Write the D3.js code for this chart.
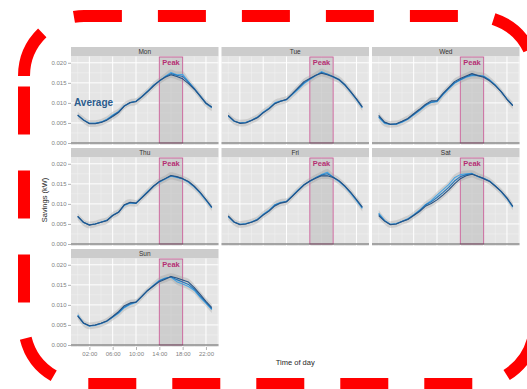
<!DOCTYPE html>
<html>
<head>
<meta charset="utf-8">
<script src="https://cdn.jsdelivr.net/npm/d3@7"></script>
<style>
    body { margin: 0; background: #fff; }
    svg { display: block; font-family: "Liberation Sans", Arial, sans-serif; }
</style>
</head>
<body>
<div id="chart"></div>
<script>

// ---- data ----
const days = ["Mon", "Tue", "Wed", "Thu", "Fri", "Sat", "Sun"];
const hours = [0, 1, 2, 3, 4, 5, 6, 7, 8, 9, 10, 11, 12, 13, 14, 15, 16, 17, 18, 19, 20, 21, 22, 23];
const xTicks = [2, 6, 10, 14, 18, 22];
const xTickLabels = ["02:00", "06:00", "10:00", "14:00", "18:00", "22:00"];
const yTicks = [0, 0.005, 0.010, 0.015, 0.020];
const peakWindow = [14, 18];

// dark = average line, mid / light = the two other groups
const monDark  = [0.0070,0.0057,0.0048,0.0048,0.0051,0.0057,0.0066,0.0076,0.0092,0.0101,0.0103,0.0115,0.0128,0.0142,0.0155,0.0164,0.0170,0.0166,0.0160,0.0148,0.0134,0.0117,0.0099,0.0089];
const monMid   = [0.0069,0.0057,0.0049,0.0049,0.0052,0.0058,0.0068,0.0078,0.0093,0.0101,0.0104,0.0116,0.0129,0.0144,0.0155,0.0165,0.0173,0.0169,0.0166,0.0152,0.0136,0.0118,0.0100,0.0090];
const monLight = [0.0069,0.0058,0.0049,0.0049,0.0052,0.0059,0.0070,0.0078,0.0092,0.0100,0.0104,0.0115,0.0129,0.0143,0.0154,0.0166,0.0176,0.0170,0.0171,0.0153,0.0135,0.0116,0.0098,0.0088];

const tueDark  = [0.0069,0.0055,0.0049,0.0050,0.0056,0.0063,0.0075,0.0085,0.0098,0.0104,0.0109,0.0123,0.0138,0.0153,0.0161,0.0169,0.0174,0.0170,0.0165,0.0158,0.0145,0.0128,0.0110,0.0090];
const tueMid   = [0.0068,0.0055,0.0050,0.0051,0.0057,0.0064,0.0076,0.0086,0.0099,0.0104,0.0108,0.0122,0.0136,0.0150,0.0160,0.0168,0.0176,0.0172,0.0166,0.0159,0.0146,0.0128,0.0109,0.0089];
const tueLight = [0.0067,0.0054,0.0050,0.0051,0.0057,0.0064,0.0077,0.0087,0.0100,0.0105,0.0108,0.0121,0.0134,0.0148,0.0158,0.0168,0.0178,0.0171,0.0164,0.0157,0.0144,0.0127,0.0108,0.0088];

const wedDark  = [0.0069,0.0052,0.0047,0.0048,0.0054,0.0061,0.0073,0.0084,0.0096,0.0105,0.0106,0.0123,0.0138,0.0153,0.0161,0.0167,0.0173,0.0168,0.0164,0.0155,0.0143,0.0128,0.0109,0.0093];
const wedMid   = [0.0066,0.0051,0.0046,0.0047,0.0053,0.0060,0.0071,0.0082,0.0094,0.0102,0.0104,0.0121,0.0136,0.0150,0.0158,0.0165,0.0170,0.0169,0.0166,0.0157,0.0144,0.0128,0.0109,0.0093];
const wedLight = [0.0064,0.0049,0.0046,0.0047,0.0052,0.0059,0.0070,0.0081,0.0093,0.0101,0.0103,0.0120,0.0135,0.0149,0.0157,0.0164,0.0168,0.0168,0.0167,0.0158,0.0145,0.0128,0.0110,0.0094];

const thuDark  = [0.0069,0.0054,0.0047,0.0050,0.0054,0.0058,0.0071,0.0079,0.0098,0.0104,0.0102,0.0115,0.0129,0.0144,0.0156,0.0163,0.0171,0.0168,0.0163,0.0156,0.0144,0.0129,0.0111,0.0092];
const thuMid   = [0.0069,0.0054,0.0048,0.0050,0.0054,0.0059,0.0071,0.0079,0.0097,0.0103,0.0102,0.0116,0.0130,0.0144,0.0155,0.0163,0.0170,0.0167,0.0163,0.0155,0.0143,0.0128,0.0110,0.0091];
const thuLight = [0.0068,0.0053,0.0048,0.0050,0.0055,0.0059,0.0072,0.0080,0.0096,0.0102,0.0101,0.0116,0.0131,0.0145,0.0154,0.0162,0.0169,0.0166,0.0162,0.0154,0.0142,0.0127,0.0109,0.0090];

const friDark  = [0.0070,0.0055,0.0048,0.0050,0.0054,0.0060,0.0072,0.0082,0.0095,0.0102,0.0105,0.0119,0.0133,0.0147,0.0157,0.0164,0.0170,0.0170,0.0166,0.0158,0.0145,0.0129,0.0111,0.0092];
const friMid   = [0.0069,0.0055,0.0049,0.0050,0.0055,0.0061,0.0073,0.0083,0.0097,0.0103,0.0106,0.0120,0.0134,0.0148,0.0157,0.0165,0.0172,0.0175,0.0167,0.0157,0.0144,0.0128,0.0110,0.0091];
const friLight = [0.0068,0.0054,0.0049,0.0051,0.0055,0.0061,0.0074,0.0084,0.0098,0.0104,0.0106,0.0120,0.0135,0.0148,0.0156,0.0165,0.0173,0.0179,0.0166,0.0156,0.0143,0.0127,0.0108,0.0089];

const satDark  = [0.0071,0.0057,0.0048,0.0050,0.0056,0.0061,0.0071,0.0081,0.0094,0.0101,0.0110,0.0122,0.0135,0.0150,0.0163,0.0170,0.0174,0.0169,0.0163,0.0156,0.0144,0.0131,0.0115,0.0094];
const satMid   = [0.0074,0.0058,0.0049,0.0050,0.0056,0.0062,0.0072,0.0083,0.0097,0.0105,0.0116,0.0128,0.0141,0.0157,0.0168,0.0173,0.0175,0.0169,0.0164,0.0157,0.0145,0.0131,0.0114,0.0093];
const satLight = [0.0077,0.0059,0.0049,0.0051,0.0057,0.0063,0.0073,0.0084,0.0098,0.0108,0.0122,0.0135,0.0148,0.0165,0.0173,0.0175,0.0176,0.0168,0.0163,0.0157,0.0145,0.0130,0.0113,0.0092];

const sunDark  = [0.0072,0.0055,0.0048,0.0050,0.0054,0.0060,0.0071,0.0083,0.0098,0.0105,0.0107,0.0121,0.0136,0.0147,0.0158,0.0164,0.0171,0.0167,0.0162,0.0157,0.0143,0.0126,0.0109,0.0093];
const sunMid   = [0.0073,0.0054,0.0048,0.0050,0.0054,0.0060,0.0070,0.0081,0.0095,0.0103,0.0107,0.0121,0.0136,0.0148,0.0160,0.0166,0.0170,0.0163,0.0157,0.0151,0.0139,0.0122,0.0106,0.0090];
const sunLight = [0.0075,0.0054,0.0047,0.0049,0.0053,0.0059,0.0069,0.0079,0.0093,0.0101,0.0106,0.0121,0.0136,0.0149,0.0161,0.0167,0.0169,0.0158,0.0152,0.0146,0.0136,0.0119,0.0104,0.0088];

const seriesByDay = {
    Mon: [monLight, monMid, monDark],
    Tue: [tueLight, tueMid, tueDark],
    Wed: [wedLight, wedMid, wedDark],
    Thu: [thuLight, thuMid, thuDark],
    Fri: [friLight, friMid, friDark],
    Sat: [satLight, satMid, satDark],
    Sun: [sunLight, sunMid, sunDark]
};
const seriesColors = ["#47a4e2", "#2177bd", "#255284"];


class FacetVis {

    constructor(_parentElement) {
        this.parentElement = _parentElement;
        this.initVis();
    }

    initVis() {
        let vis = this;

        vis.width = 527;
        vis.height = 389;

        vis.panelW = 147.5;
        vis.gapX = 3;
        vis.left = 71;
        vis.top = 47;
        vis.rowStep = 101;
        vis.stripH = 9.5;
        vis.plotH = 88.5;

        vis.svg = d3.select("#" + vis.parentElement).append("svg")
            .attr("width", vis.width)
            .attr("height", vis.height);

        // shared scales (panel local coordinates)
        vis.x = d3.scaleLinear().domain([-1.15, 24.15]).range([0, vis.panelW]);
        vis.y = d3.scaleLinear().domain([-0.0005, 0.02157]).range([vis.plotH, 0]);

        vis.drawPanels();
        vis.drawLabels();
        vis.drawOverlay();
    }

    drawPanels() {
        let vis = this;

        const xMinor = [0, 4, 8, 12, 16, 20, 24];
        const yMinor = [0.0025, 0.0075, 0.0125, 0.0175];

        days.forEach((day, i) => {
            let col = i % 3, row = Math.floor(i / 3);
            let px = vis.left + col * (vis.panelW + vis.gapX);
            let py = vis.top + row * vis.rowStep;

            let g = vis.svg.append("g")
                .attr("transform", "translate(" + px + "," + py + ")");

            // strip
            g.append("rect")
                .attr("width", vis.panelW)
                .attr("height", vis.stripH)
                .attr("fill", "#cccccc");
            g.append("text")
                .attr("x", vis.panelW / 2)
                .attr("y", vis.stripH - 2.3)
                .attr("text-anchor", "middle")
                .attr("font-size", 6.5)
                .attr("fill", "#333333")
                .text(day);

            let p = g.append("g")
                .attr("transform", "translate(0," + vis.stripH + ")");

            p.append("rect")
                .attr("width", vis.panelW)
                .attr("height", vis.plotH)
                .attr("fill", "#e5e5e5");

            // grid
            p.selectAll(".ygrid-minor").data(yMinor).enter().append("line")
                .attr("x1", 0).attr("x2", vis.panelW)
                .attr("y1", d => vis.y(d)).attr("y2", d => vis.y(d))
                .attr("stroke", "#f2f2f2").attr("stroke-width", 0.5);
            p.selectAll(".xgrid-minor").data(xMinor).enter().append("line")
                .attr("y1", 0).attr("y2", vis.plotH)
                .attr("x1", d => vis.x(d)).attr("x2", d => vis.x(d))
                .attr("stroke", "#f2f2f2").attr("stroke-width", 0.5);
            p.selectAll(".ygrid").data(yTicks).enter().append("line")
                .attr("x1", 0).attr("x2", vis.panelW)
                .attr("y1", d => vis.y(d)).attr("y2", d => vis.y(d))
                .attr("stroke", "#ffffff").attr("stroke-width", 1);
            p.selectAll(".xgrid").data(xTicks).enter().append("line")
                .attr("y1", 0).attr("y2", vis.plotH)
                .attr("x1", d => vis.x(d)).attr("x2", d => vis.x(d))
                .attr("stroke", "#ffffff").attr("stroke-width", 1);

            // peak window
            p.append("rect")
                .attr("x", vis.x(peakWindow[0]))
                .attr("y", 0.5)
                .attr("width", vis.x(peakWindow[1]) - vis.x(peakWindow[0]))
                .attr("height", vis.y(0) - 0.5)
                .attr("fill", "#a8a8a8")
                .attr("fill-opacity", 0.38)
                .attr("stroke", "#c9669b")
                .attr("stroke-width", 1);

            let series = seriesByDay[day];

            // grey confidence band around the lines
            let band = hours.map((h, j) => ({
                h: h,
                lo: d3.min(series, s => s[j]) - 0.0008,
                hi: d3.max(series, s => s[j]) + 0.0008
            }));
            p.append("path")
                .datum(band)
                .attr("fill", "#9a9a9a")
                .attr("fill-opacity", 0.33)
                .attr("d", d3.area()
                    .x(d => vis.x(d.h))
                    .y0(d => vis.y(d.lo))
                    .y1(d => vis.y(d.hi))
                    .curve(d3.curveMonotoneX));

            const line = d3.line()
                .x((d, j) => vis.x(hours[j]))
                .y(d => vis.y(d));

            series.forEach((s, k) => {
                p.append("path")
                    .attr("d", line(s))
                    .attr("fill", "none")
                    .attr("stroke", seriesColors[k])
                    .attr("stroke-width", 1.1)
                    .attr("stroke-linejoin", "round");
            });

            // zero line
            p.append("line")
                .attr("x1", 0).attr("x2", vis.panelW)
                .attr("y1", vis.y(0)).attr("y2", vis.y(0))
                .attr("stroke", "#555555").attr("stroke-width", 1.1);

            p.append("text")
                .attr("x", vis.x((peakWindow[0] + peakWindow[1]) / 2))
                .attr("y", 8)
                .attr("text-anchor", "middle")
                .attr("font-size", 7.5)
                .attr("font-weight", "bold")
                .attr("fill", "#b52f73")
                .text("Peak");

            if (day === "Mon") {
                p.append("text")
                    .attr("x", 3)
                    .attr("y", vis.y(0.0092))
                    .attr("font-size", 10)
                    .attr("font-weight", "bold")
                    .attr("fill", "#2b5b8c")
                    .text("Average");
            }

            // y axis on first column
            if (col === 0) {
                let yAxis = d3.axisLeft(vis.y)
                    .tickValues(yTicks)
                    .tickFormat(d3.format(".3f"))
                    .tickSize(3)
                    .tickPadding(1.5);
                p.append("g")
                    .attr("class", "axis y-axis")
                    .call(yAxis);
            }

            // x axis only on the bottom panel
            if (day === "Sun") {
                let xAxis = d3.axisBottom(vis.x)
                    .tickValues(xTicks)
                    .tickFormat((d, j) => xTickLabels[j])
                    .tickSize(3)
                    .tickPadding(2);
                p.append("g")
                    .attr("class", "axis x-axis")
                    .attr("transform", "translate(0," + vis.plotH + ")")
                    .call(xAxis);
            }
        });

        vis.svg.selectAll(".axis .domain").remove();
        vis.svg.selectAll(".axis line").attr("stroke", "#7f7f7f").attr("stroke-width", 0.6);
        vis.svg.selectAll(".axis text")
            .attr("fill", "#7f7f7f")
            .attr("font-size", 6)
            .attr("font-family", "Liberation Sans, Arial, sans-serif");
    }

    drawLabels() {
        let vis = this;
        let midX = vis.left + (3 * vis.panelW + 2 * vis.gapX) / 2;

        vis.svg.append("text")
            .attr("x", midX)
            .attr("y", 365)
            .attr("text-anchor", "middle")
            .attr("font-size", 7.5)
            .attr("fill", "#262626")
            .text("Time of day");

        vis.svg.append("text")
            .attr("transform", "translate(47,200) rotate(-90)")
            .attr("text-anchor", "middle")
            .attr("font-size", 7.5)
            .attr("fill", "#262626")
            .text("Savings (kW)");
    }

    drawOverlay() {
        let vis = this;
        // red dashed rounded frame drawn over the figure
        let x = 24, y = 16, w = 511, h = 368, r = 60;
        let p = d3.path();
        p.moveTo(x, y + r);
        p.arcTo(x, y, x + r, y, r);
        p.lineTo(x + w - r, y);
        p.arcTo(x + w, y, x + w, y + r, r);
        p.lineTo(x + w, y + h - r);
        p.arcTo(x + w, y + h, x + w - r, y + h, r);
        p.lineTo(x + r, y + h);
        p.arcTo(x, y + h, x, y + h - r, r);
        p.closePath();

        vis.svg.append("path")
            .attr("d", p.toString())
            .attr("fill", "none")
            .attr("stroke", "#ff0000")
            .attr("stroke-width", 12)
            .attr("stroke-dasharray", "48 36");
    }
}

new FacetVis("chart");

</script>
</body>
</html>
